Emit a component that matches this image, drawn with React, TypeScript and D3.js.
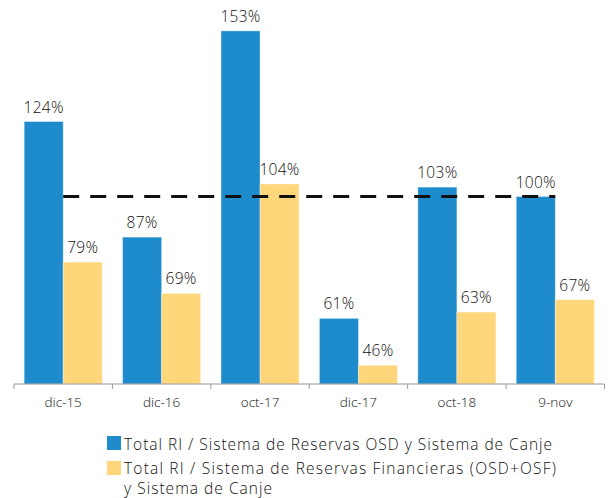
import React from "react";
import * as d3 from "d3";

const categories = ["dic-15", "dic-16", "oct-17", "dic-17", "oct-18", "9-nov"];
const seriesOSD = [124, 87, 153, 61, 103, 100];
const seriesFin = [79, 69, 104, 46, 63, 67];
const referenceValue = 100;
const legendLabels = [
  ["Total RI / Sistema de Reservas OSD y Sistema de Canje"],
  ["Total RI / Sistema de Reservas Financieras (OSD+OSF)", "y Sistema de Canje"],
];
const colors = ["#1e8bcd", "#ffd77a"];

const W = 609;
const H = 498;
const FONT = "'Open Sans', sans-serif";

export default function App() {
  const x = d3
    .scaleBand<string>()
    .domain(categories)
    .range([14, 604.5])
    .paddingInner(0.207)
    .paddingOuter(0.1035);
  const step = x.step();
  const sub = d3.scaleBand<string>().domain(["a", "b"]).range([0, x.bandwidth()]).padding(0);
  const y = d3.scaleLinear().domain([40, 160]).range([384, 9]);
  const base = y(40);
  const series = [seriesOSD, seriesFin];
  const keys = ["a", "b"];

  const first = categories[0];
  const last = categories[categories.length - 1];
  const cx0 = (x(first) as number) + x.bandwidth() / 2;
  const cx1 = (x(last) as number) + x.bandwidth() / 2;

  const ticks = d3.range(categories.length + 1).map((i) => 14 + i * step);

  return (
    <svg
      width={W}
      height={H}
      style={{ position: "absolute", left: 0, top: 0, background: "#fff" }}
      fontFamily={FONT}
      fontWeight={350}
    >
      {series.map((vals, si) =>
        vals.map((v, i) => {
          const bx = (x(categories[i]) as number) + (sub(keys[si]) as number);
          const bw = sub.bandwidth();
          const top = y(v);
          return (
            <g key={`${si}-${i}`}>
              <rect
                x={bx}
                y={top}
                width={bw}
                height={base - top}
                fill={colors[si]}
                stroke="rgba(255,255,255,0.35)"
                strokeWidth={1}
              />
              <text
                x={bx + bw / 2}
                y={top - 9}
                textAnchor="middle"
                fontSize={15.5}
                fill="#111"
                letterSpacing={0.3}
              >
                {`${v}%`}
              </text>
            </g>
          );
        })
      )}
      <line
        x1={cx0}
        x2={cx1}
        y1={y(referenceValue)}
        y2={y(referenceValue)}
        stroke="#111"
        strokeWidth={3}
        strokeDasharray="16 11"
      />
      <line x1={14} x2={604.5} y1={base} y2={base} stroke="#999" strokeWidth={1} />
      {ticks.map((t, i) => (
        <line key={i} x1={t} x2={t} y1={base} y2={base + 5} stroke="#999" strokeWidth={1} />
      ))}
      {categories.map((c) => (
        <text
          key={c}
          x={(x(c) as number) + x.bandwidth() / 2}
          y={407}
          textAnchor="middle"
          fontSize={13.5}
          fill="#111"
        >
          {c}
        </text>
      ))}
      <g fontSize={15.5} fill="#111">
        <rect x={107} y={436} width={14} height={14} fill={colors[0]} />
        <text x={124} y={450} textLength={428} lengthAdjust="spacing">
          {legendLabels[0][0]}
        </text>
        <rect x={107} y={461} width={14} height={14} fill={colors[1]} />
        <text x={124} y={474} textLength={432} lengthAdjust="spacing">
          {legendLabels[1][0]}
        </text>
        <text x={124} y={494} textLength={148} lengthAdjust="spacing">
          {legendLabels[1][1]}
        </text>
      </g>
    </svg>
  );
}
